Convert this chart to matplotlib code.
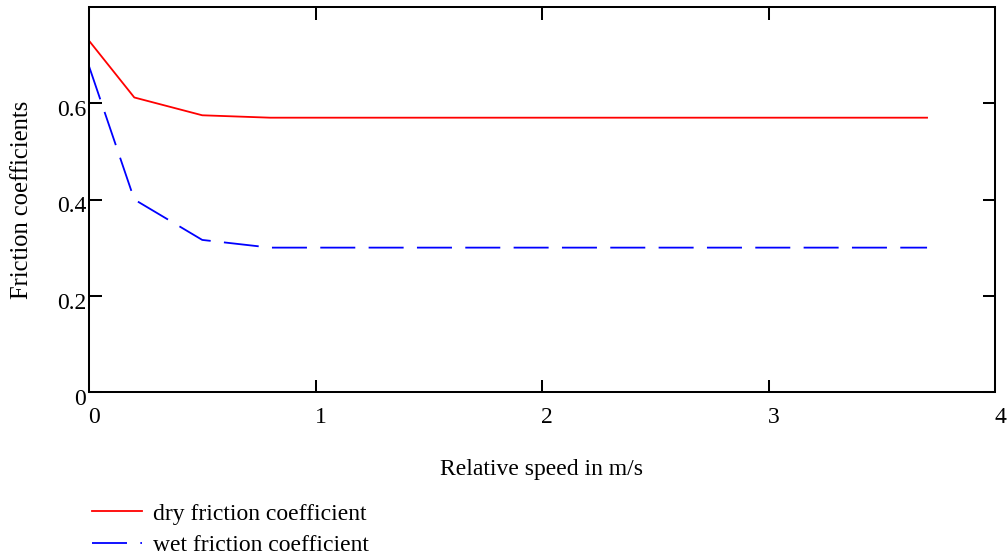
import matplotlib
matplotlib.use("Agg")
import matplotlib.pyplot as plt
from matplotlib.transforms import ScaledTranslation

# Friction coefficient vs. relative sliding speed
speed = [0.0, 0.2, 0.5, 0.8, 3.7]
dry_friction = [0.73, 0.612, 0.575, 0.57, 0.57]
wet_friction = [0.677, 0.40, 0.316, 0.30, 0.30]

x_ticks = [0, 1, 2, 3, 4]
y_ticks = [0, 0.2, 0.4, 0.6]
y_tick_labels = ["0", "0.2", "0.4", "0.6"]

plt.rcParams["font.family"] = ["Liberation Serif", "DejaVu Serif"]
plt.rcParams["lines.scale_dashes"] = False

DPI = 100
W, H = 1007, 558
fig = plt.figure(figsize=(W / DPI, H / DPI), dpi=DPI)

left, right, top, bottom = 89, 995, 7, 392
ax = fig.add_axes([left / W, 1 - bottom / H, (right - left) / W, (bottom - top) / H])

ax.plot(speed, dry_friction, color="#ff0000", lw=1.3, label="dry friction coefficient")
ax.plot(speed, wet_friction, color="#0000ff", lw=1.3, dashes=(25.2, 9.6),
        label="wet friction coefficient")

ax.set_xlim(0, 4)
ax.set_ylim(0, 0.8)
ax.set_xticks(x_ticks)
ax.set_xticklabels([str(v) for v in x_ticks])
ax.set_yticks(y_ticks)
ax.set_yticklabels(y_tick_labels)

for s in ax.spines.values():
    s.set_linewidth(1.45)
    s.set_color("black")

ax.tick_params(direction="in", length=9, width=1.45, top=True, right=True,
               labelsize=17, colors="black")
ax.tick_params(axis="x", pad=11)
ax.tick_params(axis="y", pad=2)

# nudge tick labels the way the plotting package places them
for lbl in ax.get_xticklabels():
    lbl.set_transform(lbl.get_transform() + ScaledTranslation(5 / DPI, 0, fig.dpi_scale_trans))
for lbl in ax.get_yticklabels():
    lbl.set_transform(lbl.get_transform() + ScaledTranslation(0, -5 / DPI, fig.dpi_scale_trans))

ax.set_xlabel("Relative speed in m/s", fontsize=17, va="center")
ax.xaxis.set_label_coords(0.5, (bottom - 469) / (bottom - top))
ax.set_ylabel("Friction coefficients", fontsize=17.7, va="center")
ax.yaxis.set_label_coords((22 - left) / (right - left), 0.5)

ax.legend(loc="upper left", bbox_to_anchor=(92 / W, 1 - 503 / H),
          bbox_transform=fig.transFigure, frameon=False, fontsize=17,
          handlelength=2.12, handletextpad=0.47, labelspacing=0.43,
          borderpad=0, borderaxespad=0)

fig.savefig("out.png", dpi=DPI)
